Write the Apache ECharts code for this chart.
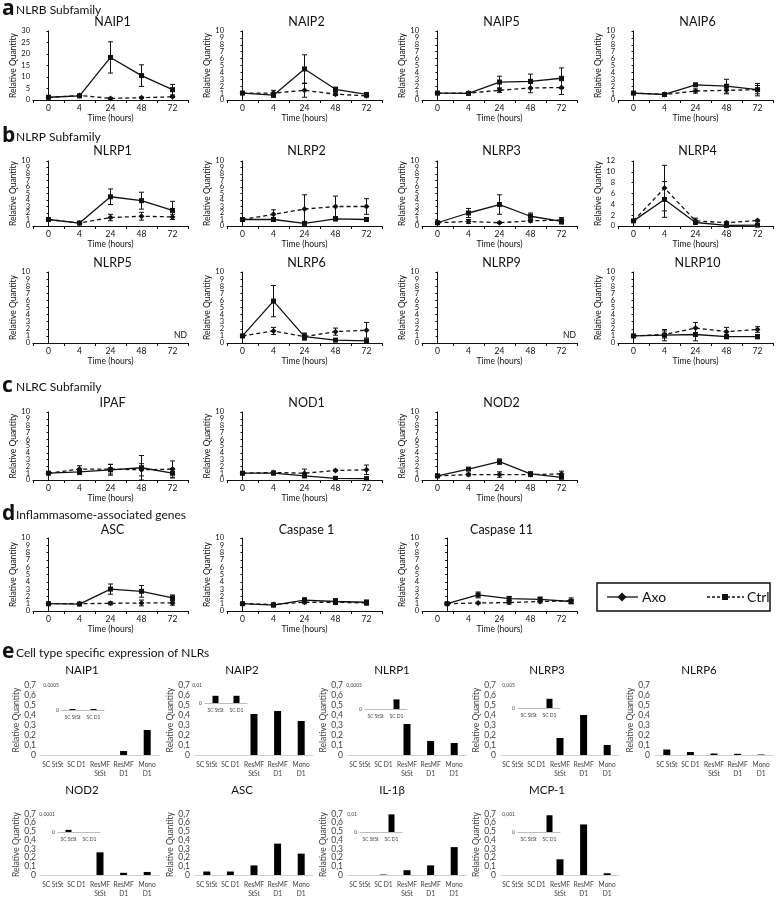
<!DOCTYPE html>
<html>
<head>
<meta charset="utf-8">
<script src="https://cdn.jsdelivr.net/npm/echarts@6.0.0/dist/echarts.min.js"></script>
<style>
html,body{margin:0;padding:0;background:#ffffff;}
#chart{width:778px;height:900px;}
</style>
</head>
<body>
<div id="chart"></div>
<script>
// ================= DATA =================
const timeLabels = ['0', '4', '24', '48', '72'];
const seriesNames = ['Axo', 'Ctrl'];

// Axo = solid line, Ctrl = dashed line; *_Err = half-length of error bar
const NAIP1_axo = [1.2, 1.8, 18.5, 10.6, 4.5];
const NAIP1_axoErr = [0.3, 0.3, 6.8, 4.7, 2.3];
const NAIP1_ctrl = [1.0, 2.0, 0.7, 1.0, 1.4];
const NAIP1_ctrlErr = [0.2, 0.3, 0.3, 0.3, 0.3];

const NAIP2_axo = [1.0, 0.7, 4.5, 1.55, 0.8];
const NAIP2_axoErr = [0.15, 0.3, 2.05, 0.3, 0.2];
const NAIP2_ctrl = [1.0, 1.0, 1.4, 0.85, 0.6];
const NAIP2_ctrlErr = [0.1, 0.4, 1.0, 0.2, 0.2];

const NAIP5_axo = [1.0, 0.95, 2.6, 2.7, 3.15];
const NAIP5_axoErr = [0.1, 0.1, 0.85, 1.05, 1.5];
const NAIP5_ctrl = [1.0, 1.0, 1.4, 1.75, 1.8];
const NAIP5_ctrlErr = [0.1, 0.1, 0.3, 0.7, 1.0];

const NAIP6_axo = [1.0, 0.8, 2.2, 2.0, 1.5];
const NAIP6_axoErr = [0.1, 0.2, 0.2, 1.0, 0.9];
const NAIP6_ctrl = [1.0, 0.8, 1.3, 1.4, 1.5];
const NAIP6_ctrlErr = [0.1, 0.2, 0.3, 0.5, 0.6];

const NLRP1_axo = [1.0, 0.45, 4.5, 3.9, 2.4];
const NLRP1_axoErr = [0.1, 0.1, 1.2, 1.3, 1.4];
const NLRP1_ctrl = [1.0, 0.45, 1.3, 1.5, 1.4];
const NLRP1_ctrlErr = [0.1, 0.1, 0.5, 0.6, 0.4];

const NLRP2_axo = [1.0, 1.0, 0.4, 1.1, 1.0];
const NLRP2_axoErr = [0.1, 0.3, 0.2, 0.3, 0.3];
const NLRP2_ctrl = [1.0, 1.8, 2.6, 3.0, 3.0];
const NLRP2_ctrlErr = [0.1, 0.7, 2.2, 1.6, 1.2];

const NLRP3_axo = [0.5, 2.0, 3.3, 1.5, 0.7];
const NLRP3_axoErr = [0.1, 0.7, 1.5, 0.5, 0.4];
const NLRP3_ctrl = [0.5, 0.7, 0.5, 0.8, 0.9];
const NLRP3_ctrlErr = [0.1, 0.3, 0.1, 0.2, 0.4];

const NLRP4_axo = [0.95, 4.9, 0.65, 0.1, 0.15];
const NLRP4_axoErr = [0.1, 3.3, 0.3, 0.1, 0.1];
const NLRP4_ctrl = [0.95, 7.0, 0.95, 0.6, 1.0];
const NLRP4_ctrlErr = [0.1, 4.2, 0.5, 0.2, 0.1];

const NLRP6_axo = [1.0, 5.9, 0.9, 0.4, 0.3];
const NLRP6_axoErr = [0.1, 2.2, 0.4, 0.1, 0.1];
const NLRP6_ctrl = [1.0, 1.7, 0.9, 1.6, 1.8];
const NLRP6_ctrlErr = [0.1, 0.5, 0.5, 0.5, 1.1];

const NLRP10_axo = [1.0, 1.1, 1.2, 0.9, 0.9];
const NLRP10_axoErr = [0.1, 0.8, 0.9, 0.3, 0.3];
const NLRP10_ctrl = [1.0, 1.2, 2.1, 1.6, 1.9];
const NLRP10_ctrlErr = [0.1, 0.5, 0.8, 0.6, 0.4];

const IPAF_axo = [1.0, 1.2, 1.5, 1.8, 1.0];
const IPAF_axoErr = [0.1, 0.4, 0.8, 1.8, 0.7];
const IPAF_ctrl = [1.0, 1.6, 1.6, 1.5, 1.6];
const IPAF_ctrlErr = [0.1, 0.5, 0.7, 0.9, 1.2];

const NOD1_axo = [1.0, 1.0, 0.6, 0.25, 0.2];
const NOD1_axoErr = [0.1, 0.2, 0.2, 0.1, 0.1];
const NOD1_ctrl = [1.0, 1.1, 1.0, 1.4, 1.5];
const NOD1_ctrlErr = [0.1, 0.2, 0.6, 0.1, 0.7];

const NOD2_axo = [0.6, 1.6, 2.7, 0.9, 0.4];
const NOD2_axoErr = [0.1, 0.2, 0.4, 0.3, 0.2];
const NOD2_ctrl = [0.6, 0.8, 0.8, 0.8, 0.9];
const NOD2_ctrlErr = [0.1, 0.2, 0.4, 0.3, 0.4];

const ASC_axo = [1.0, 0.95, 3.0, 2.7, 1.8];
const ASC_axoErr = [0.1, 0.1, 0.7, 0.8, 0.4];
const ASC_ctrl = [1.0, 1.0, 1.05, 1.1, 1.1];
const ASC_ctrlErr = [0.1, 0.1, 0.2, 0.4, 0.3];

const CASP1_axo = [1.0, 0.8, 1.5, 1.3, 1.2];
const CASP1_axoErr = [0.1, 0.2, 0.3, 0.4, 0.3];
const CASP1_ctrl = [1.0, 0.9, 1.2, 1.2, 1.1];
const CASP1_ctrlErr = [0.1, 0.2, 0.2, 0.3, 0.3];

const CASP11_axo = [1.0, 2.2, 1.7, 1.6, 1.3];
const CASP11_axoErr = [0.1, 0.4, 0.3, 0.3, 0.3];
const CASP11_ctrl = [1.0, 1.1, 1.15, 1.3, 1.4];
const CASP11_ctrlErr = [0.1, 0.1, 0.2, 0.2, 0.4];

// [title, axo, axoErr, ctrl, ctrlErr]  (null = not detected)
const lineCharts = [
  ['NAIP1', NAIP1_axo, NAIP1_axoErr, NAIP1_ctrl, NAIP1_ctrlErr],
  ['NAIP2', NAIP2_axo, NAIP2_axoErr, NAIP2_ctrl, NAIP2_ctrlErr],
  ['NAIP5', NAIP5_axo, NAIP5_axoErr, NAIP5_ctrl, NAIP5_ctrlErr],
  ['NAIP6', NAIP6_axo, NAIP6_axoErr, NAIP6_ctrl, NAIP6_ctrlErr],
  ['NLRP1', NLRP1_axo, NLRP1_axoErr, NLRP1_ctrl, NLRP1_ctrlErr],
  ['NLRP2', NLRP2_axo, NLRP2_axoErr, NLRP2_ctrl, NLRP2_ctrlErr],
  ['NLRP3', NLRP3_axo, NLRP3_axoErr, NLRP3_ctrl, NLRP3_ctrlErr],
  ['NLRP4', NLRP4_axo, NLRP4_axoErr, NLRP4_ctrl, NLRP4_ctrlErr],
  ['NLRP5', null, null, null, null],
  ['NLRP6', NLRP6_axo, NLRP6_axoErr, NLRP6_ctrl, NLRP6_ctrlErr],
  ['NLRP9', null, null, null, null],
  ['NLRP10', NLRP10_axo, NLRP10_axoErr, NLRP10_ctrl, NLRP10_ctrlErr],
  ['IPAF', IPAF_axo, IPAF_axoErr, IPAF_ctrl, IPAF_ctrlErr],
  ['NOD1', NOD1_axo, NOD1_axoErr, NOD1_ctrl, NOD1_ctrlErr],
  ['NOD2', NOD2_axo, NOD2_axoErr, NOD2_ctrl, NOD2_ctrlErr],
  ['ASC', ASC_axo, ASC_axoErr, ASC_ctrl, ASC_ctrlErr],
  ['Caspase 1', CASP1_axo, CASP1_axoErr, CASP1_ctrl, CASP1_ctrlErr],
  ['Caspase 11', CASP11_axo, CASP11_axoErr, CASP11_ctrl, CASP11_ctrlErr]
];
// y-axis max and tick step for each line chart
const lineYMax  = [30, 10, 10, 10, 10, 10, 10, 12, 10, 10, 10, 10, 10, 10, 10, 10, 10, 10];
const lineYStep = [5, 1, 1, 1, 1, 1, 1, 2, 1, 1, 1, 1, 1, 1, 1, 1, 1, 1];

// Panel e: cell type specific expression
const barCats = ['SC StSt', 'SC D1', 'ResMF\nStSt', 'ResMF\nD1', 'Mono\nD1'];
const insetCats = ['SC StSt', 'SC D1'];
const barTicks = [0, 0.1, 0.2, 0.3, 0.4, 0.5, 0.6, 0.7];
const e_NAIP1 = [0, 0, 0, 0.04, 0.25];
const e_NAIP2 = [0, 0, 0.41, 0.44, 0.34];
const e_NLRP1 = [0, 0, 0.31, 0.14, 0.12];
const e_NLRP3 = [0, 0, 0.17, 0.40, 0.10];
const e_NLRP6 = [0.055, 0.03, 0.015, 0.012, 0.005];
const e_NOD2 = [0, 0, 0.26, 0.025, 0.035];
const e_ASC = [0.04, 0.04, 0.11, 0.36, 0.245];
const e_IL1B = [0, 0.005, 0.055, 0.11, 0.32];
const e_MCP1 = [0, 0, 0.18, 0.58, 0.02];
// zoomed insets (SC StSt, SC D1) and their axis maximum
const in_NAIP1 = [0.00002, 0.00002]; const in_NAIP1_max = 0.0005;
const in_NAIP2 = [0.004, 0.004];     const in_NAIP2_max = 0.01;
const in_NLRP1 = [0, 0.0002];        const in_NLRP1_max = 0.0005;
const in_NLRP3 = [0, 0.002];         const in_NLRP3_max = 0.005;
const in_NOD2 = [0.000012, 0];       const in_NOD2_max = 0.0001;
const in_IL1B = [0, 0.0098];         const in_IL1B_max = 0.01;
const in_MCP1 = [0, 0.00093];        const in_MCP1_max = 0.001;

const barCharts = [
  ['NAIP1', e_NAIP1, in_NAIP1, in_NAIP1_max],
  ['NAIP2', e_NAIP2, in_NAIP2, in_NAIP2_max],
  ['NLRP1', e_NLRP1, in_NLRP1, in_NLRP1_max],
  ['NLRP3', e_NLRP3, in_NLRP3, in_NLRP3_max],
  ['NLRP6', e_NLRP6, null, null],
  ['NOD2', e_NOD2, in_NOD2, in_NOD2_max],
  ['ASC', e_ASC, null, null],
  ['IL-1β', e_IL1B, in_IL1B, in_IL1B_max],
  ['MCP-1', e_MCP1, in_MCP1, in_MCP1_max]
];

// ================= LAYOUT =================
const FONT = 'Lato';
const PLOT_W = 155;
const colLeft = [33, 227, 422, 618];
const rowTop = [31, 161, 272, 412, 538];
const rowAxis = [100, 226, 343, 480, 611];
const rowTitle = [22, 151, 263, 403, 530];
// [row, col, x-shift in categories]
const lineLayout = [
  [0,0,0],[0,1,0],[0,2,0],[0,3,0],
  [1,0,0],[1,1,0],[1,2,0],[1,3,0],
  [2,0,0],[2,1,0],[2,2,0],[2,3,0],
  [3,0,0],[3,1,0],[3,2,0],
  [4,0,0],[4,1,0],[4,2,0.31]
];
const headers = [
  ['a', 'NLRB Subfamily', 9],
  ['b', 'NLRP Subfamily', 136],
  ['c', 'NLRC Subfamily', 386],
  ['d', 'Inflammasome-associated genes', 514],
  ['e', 'Cell type specific expression of NLRs', 652]
];
const BAR_W = 118;
const barColLeft = [41, 195, 348, 501, 655];
const barTitleX = [82, 242, 392, 547, 699];
const barTop = [685, 814];
const barBottom = [755, 875];
const barTitleY = [670, 790];
// [row, col, insetLeft, insetBaseline]
const barLayout = [
  [0,0,62,710],[0,1,205,703],[0,2,365,709],[0,3,518,708],[0,4,0,0],
  [1,0,58,832],[1,1,0,0],[1,2,360,832],[1,3,518,832]
];

// ================= BUILD =================
const option = {
  animation: false,
  backgroundColor: '#ffffff',
  textStyle: { fontFamily: FONT },
  grid: [], xAxis: [], yAxis: [], series: [], graphic: []
};
const INK = '#111111';
const GREY = '#404040';

function txt(x, y, text, size, opts) {
  opts = opts || {};
  option.graphic.push({
    type: 'text', x: x, y: y, silent: true,
    style: {
      text: text, fill: opts.color || INK,
      font: (opts.weight || 'normal') + ' ' + size + 'px ' + (opts.family || FONT),
      align: opts.align || 'center', verticalAlign: 'middle'
    }
  });
}

function errRender(params, api) {
  const x = api.value(0);
  const lo = api.value(1), hi = api.value(2);
  const a = api.coord([x, hi]);
  const b = api.coord([x, lo]);
  const cap = 2.5;
  const st = { stroke: INK, lineWidth: 1 };
  return {
    type: 'group',
    children: [
      { type: 'line', shape: { x1: a[0], y1: a[1], x2: b[0], y2: b[1] }, style: st },
      { type: 'line', shape: { x1: a[0] - cap, y1: a[1], x2: a[0] + cap, y2: a[1] }, style: st },
      { type: 'line', shape: { x1: b[0] - cap, y1: b[1], x2: b[0] + cap, y2: b[1] }, style: st }
    ]
  };
}

headers.forEach(h => {
  txt(2, h[2], h[0], 21, { weight: 'bold', align: 'left', family: 'Open Sans' });
  txt(16, h[2] + 1, h[1], 12, { align: 'left' });
});

// split a crowded tick list into two label sets (alternate ticks) so none is dropped
function evenTicks(list) { return list.filter((v, i) => i % 2 === 0); }
function oddTicks(list) { return list.filter((v, i) => i % 2 === 1); }

lineCharts.forEach((c, k) => {
  const [row, col, shift] = lineLayout[k];
  const left = colLeft[col];
  const top = rowTop[row];
  const axisY = rowAxis[row];
  const g = option.grid.length;
  option.grid.push({ left: left, top: top, width: PLOT_W, height: axisY - top });
  option.xAxis.push({
    type: 'category', gridIndex: g, data: timeLabels, boundaryGap: true,
    axisLine: { lineStyle: { color: INK, width: 1 } },
    axisTick: { show: true, length: 3, lineStyle: { color: INK } },
    axisLabel: { fontSize: 8.5, color: INK, margin: 4, fontFamily: FONT, interval: 0 },
    name: 'Time (hours)', nameLocation: 'middle', nameGap: 14,
    nameTextStyle: { fontSize: 8.5, color: INK, fontFamily: FONT }
  });
  const xv = option.xAxis.length;
  option.xAxis.push({ type: 'value', gridIndex: g, show: false, min: -0.5 - shift, max: 4.5 - shift });
  const ticks = [];
  for (let v = 0; v <= lineYMax[k]; v += lineYStep[k]) ticks.push(v);
  const yi = option.yAxis.length;
  option.yAxis.push({
    type: 'value', gridIndex: g, position: 'left', min: 0, max: lineYMax[k], interval: lineYStep[k],
    axisLine: { show: true, lineStyle: { color: INK, width: 1 } },
    axisTick: { show: true, length: 2, lineStyle: { color: INK } },
    splitLine: { show: false },
    axisLabel: { fontSize: 7.5, color: INK, margin: 3, fontFamily: FONT, customValues: evenTicks(ticks) },
    name: 'Relative Quantity', nameLocation: 'middle', nameGap: 10,
    nameTextStyle: { fontSize: 8.5, color: INK, fontFamily: FONT }
  });
  option.yAxis.push({
    type: 'value', gridIndex: g, position: 'left', offset: 0, min: 0, max: lineYMax[k], interval: lineYStep[k],
    axisLine: { show: false }, axisTick: { show: false }, splitLine: { show: false },
    axisLabel: { fontSize: 7.5, color: INK, margin: 3, fontFamily: FONT, customValues: oddTicks(ticks) }
  });
  txt(left + PLOT_W / 2 + 2, rowTitle[row], c[0], 12.5);
  if (!c[1]) {
    txt(left + PLOT_W - 1, axisY - 8, 'ND', 8.5, { align: 'right' });
    return;
  }
  const sets = [
    { name: seriesNames[0], v: c[1], e: c[2], dash: 'solid', sym: 'rect', size: 5 },
    { name: seriesNames[1], v: c[3], e: c[4], dash: [4, 3], sym: 'diamond', size: 6 }
  ];
  sets.forEach(s => {
    option.series.push({
      type: 'custom', name: s.name, xAxisIndex: xv, yAxisIndex: yi,
      renderItem: errRender, encode: { x: 0, y: [1, 2] }, z: 2,
      data: s.v.map((v, i) => [i, Math.max(0, v - s.e[i]), v + s.e[i]])
    });
    option.series.push({
      type: 'line', name: s.name, xAxisIndex: xv, yAxisIndex: yi, z: 3,
      data: s.v.map((v, i) => [i, v]),
      symbol: s.sym, symbolSize: s.size,
      lineStyle: { color: INK, width: 1.3, type: s.dash },
      itemStyle: { color: INK }
    });
  });
});

function commaFmt(v) { return v === 0 ? '0' : (Math.round(v * 10) / 10).toFixed(1).replace('.', ','); }
function commaRaw(v) { return v === 0 ? '0' : String(v).replace('.', ','); }

barCharts.forEach((c, k) => {
  const [row, col, inLeft, inBase] = barLayout[k];
  const left = barColLeft[col];
  const g = option.grid.length;
  option.grid.push({ left: left, top: barTop[row], width: BAR_W, height: barBottom[row] - barTop[row] });
  const xi = option.xAxis.length;
  option.xAxis.push({
    type: 'category', gridIndex: g, data: barCats,
    axisLine: { lineStyle: { color: '#cfcfcf', width: 1 } },
    axisTick: { show: false },
    axisLabel: { fontSize: 6.6, color: GREY, margin: 5, lineHeight: 9.5, interval: 0, fontFamily: FONT }
  });
  const yi = option.yAxis.length;
  option.yAxis.push({
    type: 'value', gridIndex: g, position: 'left', min: 0, max: 0.7, interval: 0.1,
    axisLine: { show: false }, axisTick: { show: false }, splitLine: { show: false },
    axisLabel: { fontSize: 8.5, color: GREY, margin: 5, formatter: commaFmt, fontFamily: FONT,
                 customValues: evenTicks(barTicks) },
    name: 'Relative Quantity', nameLocation: 'middle', nameGap: 15,
    nameTextStyle: { fontSize: 8.5, color: GREY, fontFamily: FONT }
  });
  option.yAxis.push({
    type: 'value', gridIndex: g, position: 'left', offset: 0, min: 0, max: 0.7, interval: 0.1,
    axisLine: { show: false }, axisTick: { show: false }, splitLine: { show: false },
    axisLabel: { fontSize: 8.5, color: GREY, margin: 5, formatter: commaFmt, fontFamily: FONT,
                 customValues: oddTicks(barTicks) }
  });
  option.series.push({
    type: 'bar', xAxisIndex: xi, yAxisIndex: yi, data: c[1], barWidth: 7,
    itemStyle: { color: '#000000' }
  });
  txt(barTitleX[col], barTitleY[row], c[0], 11.5);
  if (c[2]) {
    const gi = option.grid.length;
    option.grid.push({ left: inLeft, top: barTop[row], width: 42, height: inBase - barTop[row] });
    const xi2 = option.xAxis.length;
    option.xAxis.push({
      type: 'category', gridIndex: gi, data: insetCats,
      axisLine: { lineStyle: { color: '#bdbdbd', width: 1 } },
      axisTick: { show: false },
      axisLabel: { fontSize: 5, color: GREY, margin: 5, interval: 0, fontFamily: FONT }
    });
    const yi2 = option.yAxis.length;
    option.yAxis.push({
      type: 'value', gridIndex: gi, min: 0, max: c[3], interval: c[3],
      axisLine: { show: false }, axisTick: { show: false }, splitLine: { show: false },
      axisLabel: { fontSize: 5, color: GREY, margin: 3, formatter: commaRaw, fontFamily: FONT }
    });
    option.series.push({
      type: 'bar', xAxisIndex: xi2, yAxisIndex: yi2, data: c[2], barWidth: 6,
      itemStyle: { color: '#000000' }
    });
  }
});

// Legend box (drawn as graphics)
option.graphic.push(
  { type: 'rect', shape: { x: 597, y: 583, width: 173, height: 28 }, style: { fill: 'none', stroke: INK, lineWidth: 1.5 } },
  { type: 'line', shape: { x1: 607, y1: 597, x2: 638, y2: 597 }, style: { stroke: INK, lineWidth: 1.3 } },
  { type: 'polygon', shape: { points: [[622, 592.5], [626.5, 597], [622, 601.5], [617.5, 597]] }, style: { fill: INK } },
  { type: 'line', shape: { x1: 707, y1: 597, x2: 744, y2: 597 }, style: { stroke: INK, lineWidth: 1.3, lineDash: [3, 2] } },
  { type: 'rect', shape: { x: 722, y: 594, width: 6, height: 6 }, style: { fill: INK } }
);
txt(642, 597, seriesNames[0], 14, { align: 'left' });
txt(747, 597, seriesNames[1], 14, { align: 'left' });

const chart = echarts.init(document.getElementById('chart'), null, { renderer: 'canvas' });
chart.setOption(option);
</script>
</body>
</html>
